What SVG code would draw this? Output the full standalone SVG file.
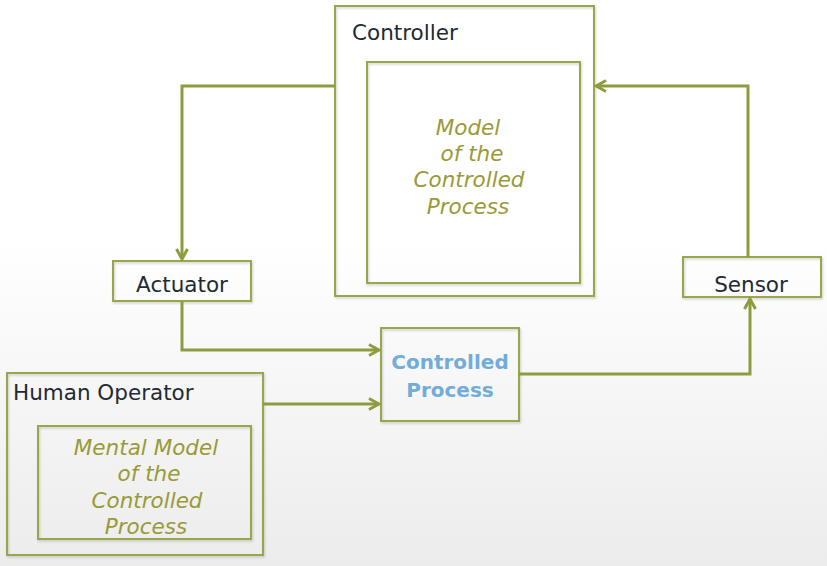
<svg xmlns="http://www.w3.org/2000/svg" width="827" height="566" viewBox="0 0 827 566">
<defs>
<linearGradient id="bg" x1="0" y1="0" x2="0" y2="1">
<stop offset="0" stop-color="#ffffff"/>
<stop offset="0.42" stop-color="#ffffff"/>
<stop offset="1" stop-color="#ececec"/>
</linearGradient>
<filter id="sh" x="-5%" y="-5%" width="115%" height="115%">
<feDropShadow dx="1" dy="1.5" stdDeviation="1" flood-color="#000" flood-opacity="0.18"/>
</filter>
<marker id="ah" viewBox="0 0 14 14" refX="12" refY="7" markerWidth="14" markerHeight="14" markerUnits="userSpaceOnUse" orient="auto">
<path d="M2,1.5 L12,7 L2,12.5" fill="none" stroke="#8e9b3e" stroke-width="3" stroke-linejoin="miter"/>
</marker>
</defs>
<style>
.box{fill:none;stroke:#9aa64a;stroke-width:2;filter:url(#sh)}
.lbl{font-family:"DejaVu Sans","Open Sans",sans-serif;font-size:21.5px;fill:#222a33}
.mdl{font-family:"DejaVu Sans","Open Sans",sans-serif;font-size:21.5px;font-style:italic;fill:#9a9a38;text-anchor:middle}
.cp{font-family:"DejaVu Sans","Open Sans",sans-serif;font-size:20px;font-weight:bold;fill:#72acd9;text-anchor:middle}
.con{fill:none;stroke:#8e9b3e;stroke-width:3;marker-end:url(#ah)}
</style>
<rect x="0" y="0" width="827" height="566" fill="url(#bg)"/>
<g id="controller">
<rect class="box" x="335" y="6" width="259" height="290"/>
<text class="lbl" x="352" y="40">Controller</text>
<rect class="box" x="367" y="62" width="213" height="221"/>
<text class="mdl" x="468" y="135">Model</text>
<text class="mdl" x="472" y="161">of the</text>
<text class="mdl" x="469" y="187">Controlled</text>
<text class="mdl" x="468" y="214">Process</text>
</g>
<g id="actuator">
<rect class="box" x="113" y="261" width="138" height="40"/>
<text class="lbl" x="182" y="292" text-anchor="middle">Actuator</text>
</g>
<g id="sensor">
<rect class="box" x="683" y="257" width="138" height="40"/>
<text class="lbl" x="751" y="292" text-anchor="middle">Sensor</text>
</g>
<g id="controlled-process">
<rect class="box" x="381" y="328" width="138" height="93"/>
<text class="cp" x="450" y="369">Controlled</text>
<text class="cp" x="450" y="397">Process</text>
</g>
<g id="human-operator">
<rect class="box" x="7" y="373" width="256" height="182"/>
<text class="lbl" x="13" y="400">Human Operator</text>
<rect class="box" x="38" y="426" width="213" height="113"/>
<text class="mdl" x="146" y="455">Mental Model</text>
<text class="mdl" x="149" y="481">of the</text>
<text class="mdl" x="147" y="508">Controlled</text>
<text class="mdl" x="146" y="534">Process</text>
</g>
<g id="connectors">
<path class="con" d="M335,86 L182,86 L182,259"/>
<path class="con" d="M182,301 L182,350 L379,350"/>
<path class="con" d="M263,404 L379,404"/>
<path class="con" d="M519,374 L750,374 L750,299"/>
<path class="con" d="M748,257 L748,86 L596,86"/>
</g>
</svg>
